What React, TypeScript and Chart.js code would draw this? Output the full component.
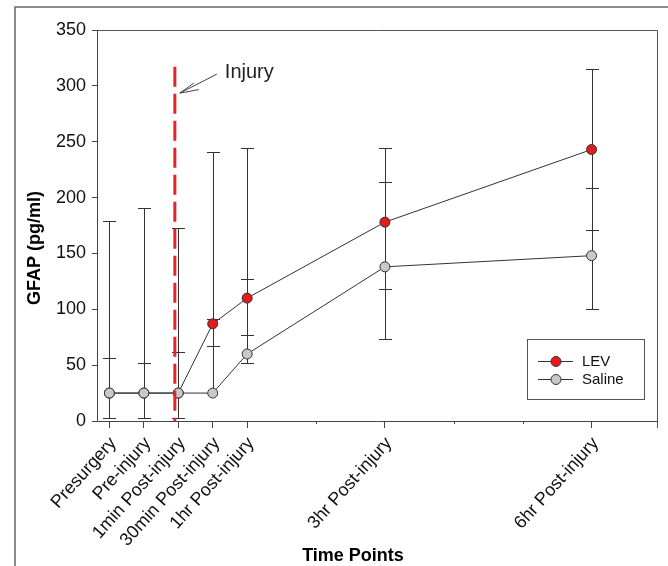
import { useEffect, useRef } from "react";
import { Chart, registerables } from "chart.js";

Chart.register(...registerables);

const FONT = "'Liberation Sans', Arial, Helvetica, sans-serif";

// ---- data ----
const timePoints = [
  "Presurgery",
  "Pre-injury",
  "1min Post-injury",
  "30min Post-injury",
  "1hr Post-injury",
  "3hr Post-injury",
  "6hr Post-injury",
];
const timeX = [0, 1, 2, 3, 4, 8, 14];
const minorTicks = [6, 10, 12];

const levMean = [25, 25, 25, 87, 110, 178, 243];
const levUpper = [179, 191, 173, 241, 244, 244, 315];
const levLower = [3, 3, 3, 67, 77, 118, 171];

const salineMean = [25, 25, 25, 25, 60, 138, 148];
const salineUpper = [56, 52, 62, 91, 127, 214, 209];
const salineLower = [3, 3, 3, 25, 52, 73, 100];

const injuryX = 1.9;
const injuryTop = 317;
const injuryArrowValue = 293.5;

const LEV_COLOR = "#e41a1c";
const SALINE_COLOR = "#c8c8c8";
const LINE_COLOR = "#333333";

export default function App() {
  const ref = useRef<HTMLCanvasElement>(null);

  useEffect(() => {
    const canvas = ref.current!;

    const errorBars = {
      id: "errorBars",
      beforeDatasetsDraw(chart: any) {
        const { ctx, scales } = chart;
        const xs = scales.x;
        const ys = scales.y;
        ctx.save();
        ctx.strokeStyle = LINE_COLOR;
        ctx.lineWidth = 1;
        const series = [
          { mean: levMean, up: levUpper, lo: levLower },
          { mean: salineMean, up: salineUpper, lo: salineLower },
        ];
        for (const s of series) {
          for (let i = 0; i < timeX.length; i++) {
            const px = Math.round(xs.getPixelForValue(timeX[i])) + 0.5;
            const yt = Math.round(ys.getPixelForValue(s.up[i])) + 0.5;
            const yb = Math.round(ys.getPixelForValue(s.lo[i])) + 0.5;
            const ym = ys.getPixelForValue(s.mean[i]);
            ctx.beginPath();
            ctx.moveTo(px, Math.max(yb, ym));
            ctx.lineTo(px, yt);
            ctx.moveTo(px - 6.5, yt);
            ctx.lineTo(px + 6.5, yt);
            if (s.lo[i] !== s.mean[i]) {
              ctx.moveTo(px, ym);
              ctx.lineTo(px, yb);
              ctx.moveTo(px - 6.5, yb);
              ctx.lineTo(px + 6.5, yb);
            }
            ctx.stroke();
          }
        }
        ctx.restore();
      },
      afterDatasetsDraw(chart: any) {
        const { ctx, scales } = chart;
        const xs = scales.x;
        const ys = scales.y;
        const px = xs.getPixelForValue(injuryX);
        ctx.save();
        ctx.strokeStyle = "#e8232b";
        ctx.lineWidth = 3;
        ctx.setLineDash([20, 7]);
        ctx.beginPath();
        ctx.moveTo(px, ys.getPixelForValue(injuryTop));
        ctx.lineTo(px, ys.getPixelForValue(0));
        ctx.stroke();
        ctx.restore();
      },
      afterDraw(chart: any) {
        const { ctx, chartArea, scales } = chart;
        const xs = scales.x;
        const ys = scales.y;
        ctx.save();
        // outer frame
        ctx.strokeStyle = "#666";
        ctx.lineWidth = 1.5;
        ctx.beginPath();
        ctx.moveTo(15, 566);
        ctx.lineTo(15, 7);
        ctx.lineTo(668, 7);
        ctx.stroke();
        // plot frame top/right
        ctx.strokeStyle = "#555";
        ctx.lineWidth = 1;
        ctx.beginPath();
        ctx.moveTo(chartArea.left, chartArea.top + 0.5);
        ctx.lineTo(Math.round(chartArea.right) + 0.5, chartArea.top + 0.5);
        ctx.lineTo(Math.round(chartArea.right) + 0.5, chartArea.bottom + 7);
        ctx.stroke();
        // minor ticks
        ctx.strokeStyle = "#444";
        ctx.beginPath();
        for (const v of minorTicks) {
          const px = Math.round(xs.getPixelForValue(v)) + 0.5;
          ctx.moveTo(px, chartArea.bottom);
          ctx.lineTo(px, chartArea.bottom + 3);
        }
        ctx.stroke();

        // arrow + label
        const ax = xs.getPixelForValue(injuryX) + 5;
        const ay = ys.getPixelForValue(injuryArrowValue);
        ctx.strokeStyle = "#444";
        ctx.lineWidth = 1;
        ctx.beginPath();
        ctx.moveTo(ax + 37, ay - 19);
        ctx.lineTo(ax, ay);
        ctx.moveTo(ax, ay);
        ctx.lineTo(ax + 14, ay - 10);
        ctx.moveTo(ax, ay);
        ctx.lineTo(ax + 19, ay - 3.5);
        ctx.stroke();
        ctx.fillStyle = "#222";
        ctx.font = `20px ${FONT}`;
        ctx.textAlign = "left";
        ctx.textBaseline = "middle";
        ctx.fillText("Injury", ax + 45, ay - 21);

        // legend
        const lx = 527.5, ly = 339.5, lw = 117, lh = 60;
        ctx.strokeStyle = "#555";
        ctx.strokeRect(lx, ly, lw, lh);
        const rows = [
          { label: "LEV", color: LEV_COLOR, y: 361.5 },
          { label: "Saline", color: SALINE_COLOR, y: 379.5 },
        ];
        ctx.font = `15px ${FONT}`;
        for (const r of rows) {
          ctx.strokeStyle = LINE_COLOR;
          ctx.beginPath();
          ctx.moveTo(538, r.y);
          ctx.lineTo(573, r.y);
          ctx.stroke();
          ctx.beginPath();
          ctx.arc(556, r.y, 5, 0, Math.PI * 2);
          ctx.fillStyle = r.color;
          ctx.fill();
          ctx.stroke();
          ctx.fillStyle = "#111";
          ctx.fillText(r.label, 582, r.y + 0.5);
        }

        // axis titles
        ctx.fillStyle = "#000";
        ctx.font = `bold 18px ${FONT}`;
        ctx.textAlign = "center";
        ctx.textBaseline = "middle";
        ctx.fillText("Time Points", 353, 556);
        ctx.translate(35, 248);
        ctx.rotate(-Math.PI / 2);
        ctx.fillText("GFAP (pg/ml)", 0, 0);
        ctx.restore();
      },
    };

    const mk = (means: number[]) => timeX.map((x, i) => ({ x, y: means[i] }));

    const chart = new Chart(canvas, {
      type: "line",
      data: {
        datasets: [
          {
            label: "Saline",
            data: mk(salineMean),
            borderColor: LINE_COLOR,
            borderWidth: 1,
            pointRadius: 5,
            pointBackgroundColor: SALINE_COLOR,
            pointBorderColor: LINE_COLOR,
            pointBorderWidth: 1,
            tension: 0,
            fill: false,
          },
          {
            label: "LEV",
            data: mk(levMean),
            borderColor: LINE_COLOR,
            borderWidth: 1,
            pointRadius: 5,
            pointBackgroundColor: LEV_COLOR,
            pointBorderColor: LINE_COLOR,
            pointBorderWidth: 1,
            tension: 0,
            fill: false,
          },
        ],
      },
      options: {
        responsive: false,
        animation: false,
        devicePixelRatio: 1,
        layout: { padding: { top: 30, right: 11, left: 0, bottom: 0 } },
        plugins: {
          legend: { display: false },
          tooltip: { enabled: false },
        },
        scales: {
          x: {
            type: "linear",
            min: -0.36,
            max: 15.9,
            afterBuildTicks: (s: any) => {
              s.ticks = timeX.map((v) => ({ value: v }));
            },
            afterFit: (s: any) => {
              s.height = 145;
            },
            ticks: {
              autoSkip: false,
              minRotation: 48,
              maxRotation: 48,
              padding: 5,
              labelOffset: 4,
              color: "#111",
              font: { family: FONT, size: 18 },
              callback: (v: any) => {
                const i = timeX.indexOf(Number(v));
                return i >= 0 ? timePoints[i] : "";
              },
            },
            grid: { drawOnChartArea: false, tickLength: 7, color: "#444" },
            border: { color: "#444" },
          },
          y: {
            min: 0,
            max: 350,
            afterFit: (s: any) => {
              s.width = 97;
            },
            ticks: {
              stepSize: 50,
              padding: 6,
              color: "#111",
              font: { family: FONT, size: 18 },
            },
            grid: { drawOnChartArea: false, tickLength: 5, color: "#444" },
            border: { color: "#444" },
          },
        },
      },
      plugins: [errorBars],
    } as any);

    return () => chart.destroy();
  }, []);

  return (
    <canvas
      ref={ref}
      width={668}
      height={566}
      style={{ position: "fixed", left: 0, top: 0, width: 668, height: 566 }}
    />
  );
}
